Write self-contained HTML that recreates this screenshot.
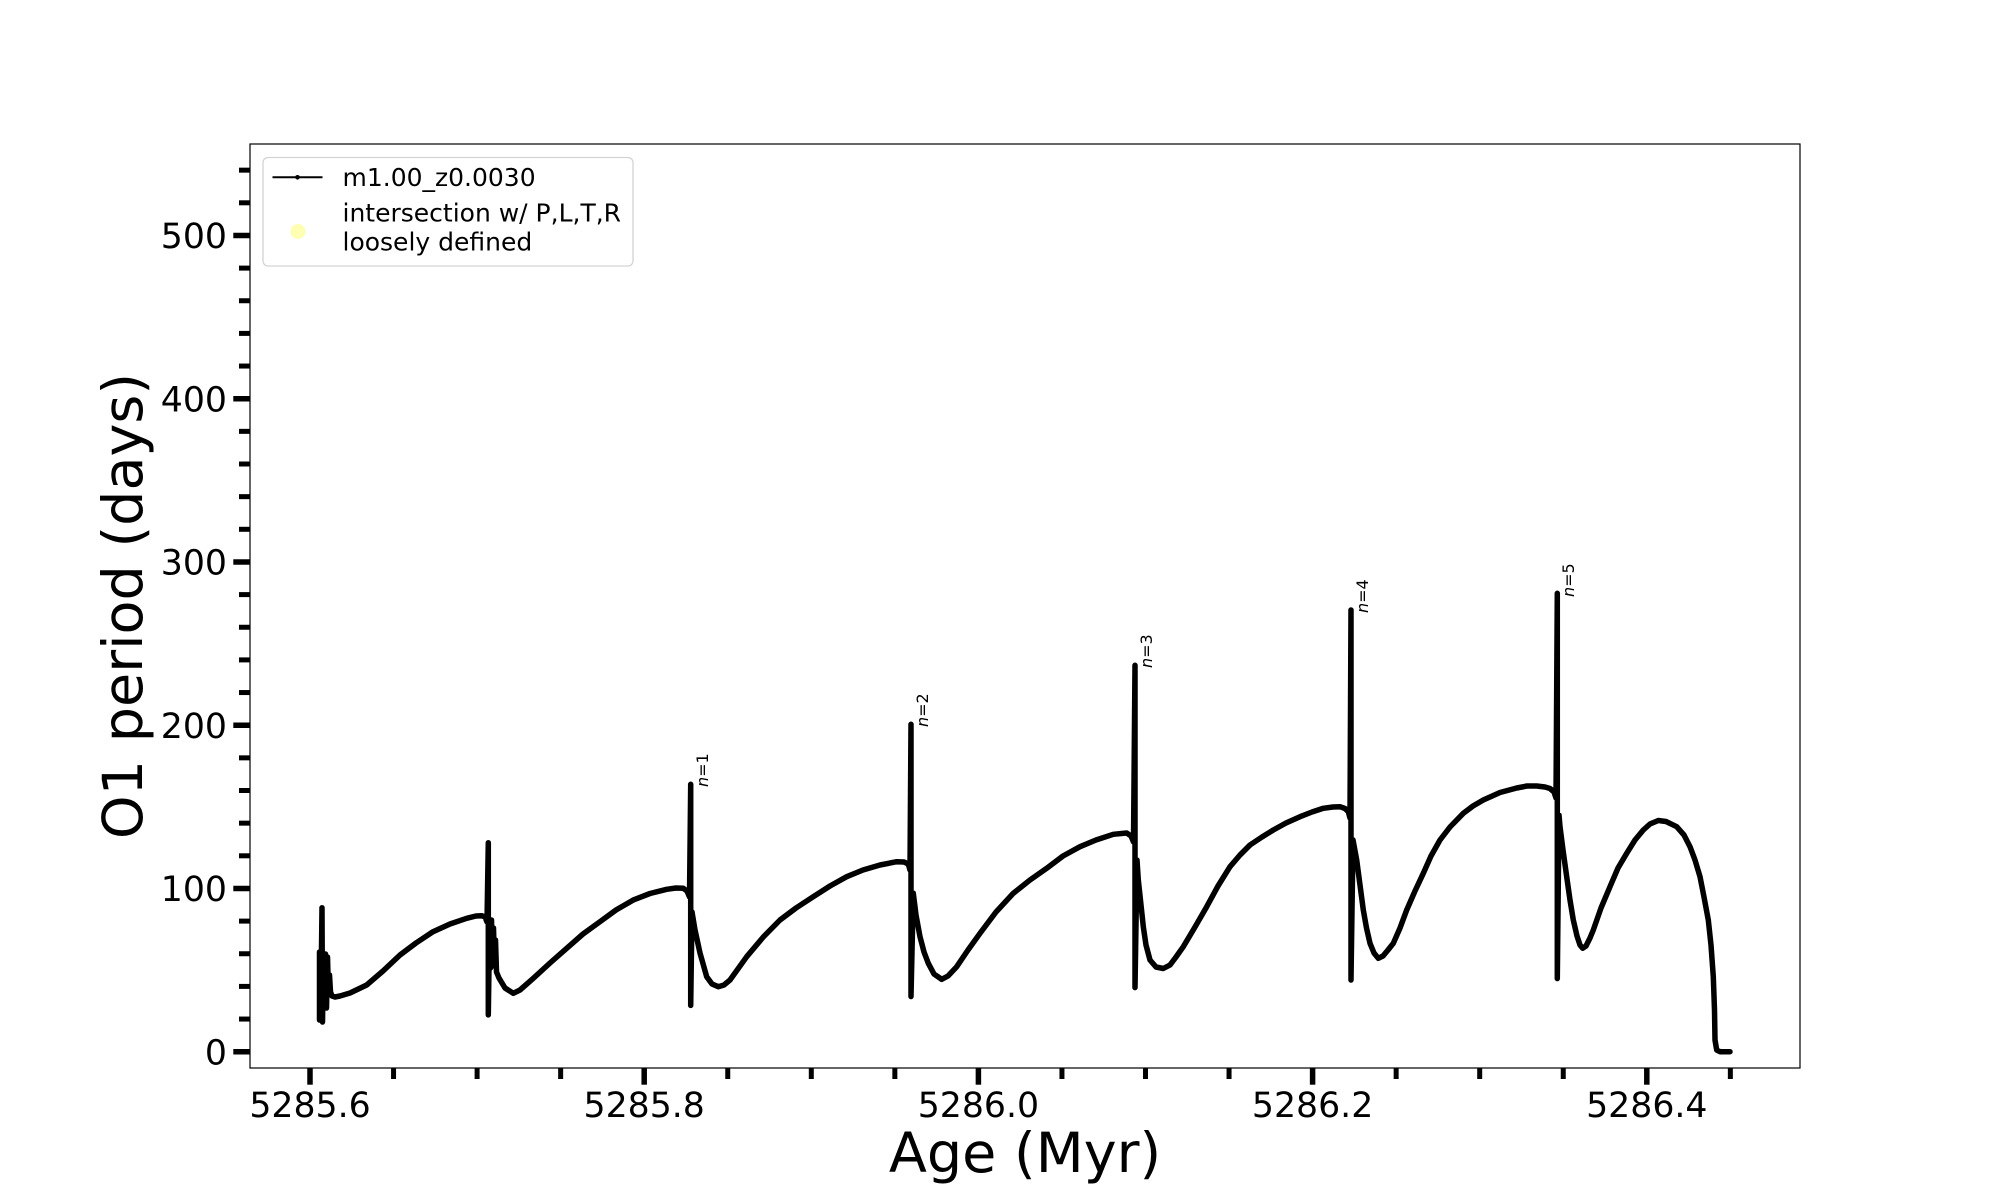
<!DOCTYPE html>
<html>
<head>
<meta charset="utf-8">
<style>
  html, body { margin: 0; padding: 0; background: #ffffff; }
  svg { display: block; }
  text { font-family: "DejaVu Sans", "Liberation Sans", sans-serif; fill: #000; }
</style>
</head>
<body>
<svg width="2000" height="1200" viewBox="0 0 2000 1200" xmlns="http://www.w3.org/2000/svg">
  <rect x="0" y="0" width="2000" height="1200" fill="#ffffff"/>

  <!-- data curve -->
  <path fill="none" stroke="#000" stroke-width="5.5" stroke-linejoin="round" stroke-linecap="round" d="
    M319.5,952 L319.5,1020 L320.5,955 L321,990 L322,907.7 L322.5,1022 L323.5,955 L324.5,1000 L325.5,954 L326.5,1008 L327.5,957 L328.5,995 L329.5,975 L330.5,992 L332,996 L335,997 L340,996 L350,993 L366.7,985 L383,971 L400,955 L416,943 L433,931.7 L450,924 L466.7,918.3 L476,916 L481.7,915.7 L485,917 L487,922
    L488.3,842.7 L488.3,1014.9 L489.5,930 L490.5,968 L491.5,920 L492.5,960 L493.5,928 L494.5,966 L495.5,940 L496.5,972 L499,978 L505,988 L513.3,993.3 L520,990 L533.3,978.3 L550,963 L566.7,948.3 L583,934 L600,921.7 L616,910 L633.3,900 L650,893.5 L666.7,889.3 L676,888 L683.3,888.3 L687,891 L689.5,897
    L690.7,784.3 L690.7,1005.4 L692,912 L695,930 L700,953 L706.7,976.7 L712,984 L718.3,986.7 L724,985 L730,980 L746.7,956.7 L763.3,937 L780,920 L796,908 L813.3,896.7 L830,886 L846.7,876.7 L863,870 L880,865 L896.7,861.7 L904,862 L908.3,864 L910,870
    L911,724.3 L911,996.5 L913.3,893.3 L916,915 L920,936.7 L924,952 L928.3,963.3 L934,974 L941.7,979.3 L948,976 L956.7,966.7 L968,950 L980,933.3 L996,912 L1013.3,893.3 L1030,880 L1046.7,868.3 L1063,856 L1080,846.7 L1096,840 L1113.3,834.3 L1126.7,833 L1131,836 L1133.5,842
    L1135,665.3 L1135,987.6 L1137,860 L1138.3,880 L1141,905 L1143.3,926.7 L1146,945 L1150,960 L1156,967 L1163.3,968.5 L1170,965 L1176,957 L1183.3,946.7 L1195,927 L1206.7,906.7 L1218,886 L1230,866.7 L1240,855 L1250,845 L1262,837 L1273.3,830 L1286,823 L1300,816.7 L1312,812 L1323.3,808.3 L1333,807 L1340,806.7 L1345,808.5 L1348.3,811.7 L1350,818
    L1351,610 L1351,980 L1353,840 L1356.7,860 L1360,885 L1363.3,910 L1366.5,928 L1370,943.3 L1374,953 L1378.3,958.3 L1383,956 L1388,950 L1393.3,943.3 L1400,928 L1406.7,910 L1415,891 L1423.3,873.3 L1431,856 L1440,840 L1450,827 L1463.3,813.3 L1473,806 L1483.3,800 L1500,792.5 L1516.7,788 L1527,786 L1536.7,786 L1545,787 L1550,788.5 L1554,792 L1556,798
    L1557.3,593.3 L1557.3,978.6 L1559,815 L1560,826.7 L1563,850 L1566.7,876.7 L1570,900 L1573.3,920 L1577,936 L1580,945 L1582.7,948.3 L1586,946 L1590,938 L1593.3,930 L1601,908 L1610,886.7 L1618,868 L1626.7,853.3 L1635,840 L1643.3,830 L1650,824 L1658.3,820.5 L1666,821.5 L1676.7,826.7 L1684,835 L1690,846.7 L1695,860 L1700,876.7 L1704,897 L1708.3,920 L1711,945 L1713.3,976.7 L1714.5,1010 L1715,1040 L1716.7,1050 L1720,1051.7 L1730,1051.7"/>

  <!-- n= labels -->
  <g font-size="16">
    <text transform="translate(708,787) rotate(-90)"><tspan font-style="italic">n</tspan>=1</text>
    <text transform="translate(928,727) rotate(-90)"><tspan font-style="italic">n</tspan>=2</text>
    <text transform="translate(1152,668) rotate(-90)"><tspan font-style="italic">n</tspan>=3</text>
    <text transform="translate(1368,613) rotate(-90)"><tspan font-style="italic">n</tspan>=4</text>
    <text transform="translate(1574,597) rotate(-90)"><tspan font-style="italic">n</tspan>=5</text>
  </g>

  <!-- axes frame -->
  <rect x="250" y="144" width="1550" height="924" fill="none" stroke="#000" stroke-width="1.2"/>

  <!-- x major ticks -->
  <g stroke="#000" stroke-width="5.5">
    <line x1="310" y1="1068" x2="310" y2="1084.7"/>
    <line x1="644.2" y1="1068" x2="644.2" y2="1084.7"/>
    <line x1="978.4" y1="1068" x2="978.4" y2="1084.7"/>
    <line x1="1312.6" y1="1068" x2="1312.6" y2="1084.7"/>
    <line x1="1646.8" y1="1068" x2="1646.8" y2="1084.7"/>
  </g>
  <!-- x minor ticks -->
  <g stroke="#000" stroke-width="5">
    <line x1="393.55" y1="1068" x2="393.55" y2="1079"/>
    <line x1="477.1" y1="1068" x2="477.1" y2="1079"/>
    <line x1="560.65" y1="1068" x2="560.65" y2="1079"/>
    <line x1="727.75" y1="1068" x2="727.75" y2="1079"/>
    <line x1="811.3" y1="1068" x2="811.3" y2="1079"/>
    <line x1="894.85" y1="1068" x2="894.85" y2="1079"/>
    <line x1="1061.95" y1="1068" x2="1061.95" y2="1079"/>
    <line x1="1145.5" y1="1068" x2="1145.5" y2="1079"/>
    <line x1="1229.05" y1="1068" x2="1229.05" y2="1079"/>
    <line x1="1396.15" y1="1068" x2="1396.15" y2="1079"/>
    <line x1="1479.7" y1="1068" x2="1479.7" y2="1079"/>
    <line x1="1563.25" y1="1068" x2="1563.25" y2="1079"/>
    <line x1="1730.35" y1="1068" x2="1730.35" y2="1079"/>
  </g>

  <!-- y major ticks -->
  <g stroke="#000" stroke-width="5.5">
    <line x1="233.3" y1="1051.7" x2="250" y2="1051.7"/>
    <line x1="233.3" y1="888.45" x2="250" y2="888.45"/>
    <line x1="233.3" y1="725.2" x2="250" y2="725.2"/>
    <line x1="233.3" y1="561.95" x2="250" y2="561.95"/>
    <line x1="233.3" y1="398.7" x2="250" y2="398.7"/>
    <line x1="233.3" y1="235.45" x2="250" y2="235.45"/>
  </g>
  <!-- y minor ticks -->
  <g stroke="#000" stroke-width="5">
    <line x1="239" y1="1019.05" x2="250" y2="1019.05"/>
    <line x1="239" y1="986.4" x2="250" y2="986.4"/>
    <line x1="239" y1="953.75" x2="250" y2="953.75"/>
    <line x1="239" y1="921.1" x2="250" y2="921.1"/>
    <line x1="239" y1="855.8" x2="250" y2="855.8"/>
    <line x1="239" y1="823.15" x2="250" y2="823.15"/>
    <line x1="239" y1="790.5" x2="250" y2="790.5"/>
    <line x1="239" y1="757.85" x2="250" y2="757.85"/>
    <line x1="239" y1="692.55" x2="250" y2="692.55"/>
    <line x1="239" y1="659.9" x2="250" y2="659.9"/>
    <line x1="239" y1="627.25" x2="250" y2="627.25"/>
    <line x1="239" y1="594.6" x2="250" y2="594.6"/>
    <line x1="239" y1="529.3" x2="250" y2="529.3"/>
    <line x1="239" y1="496.65" x2="250" y2="496.65"/>
    <line x1="239" y1="464" x2="250" y2="464"/>
    <line x1="239" y1="431.35" x2="250" y2="431.35"/>
    <line x1="239" y1="366.05" x2="250" y2="366.05"/>
    <line x1="239" y1="333.4" x2="250" y2="333.4"/>
    <line x1="239" y1="300.75" x2="250" y2="300.75"/>
    <line x1="239" y1="268.1" x2="250" y2="268.1"/>
    <line x1="239" y1="202.8" x2="250" y2="202.8"/>
    <line x1="239" y1="170.15" x2="250" y2="170.15"/>
  </g>

  <!-- x tick labels -->
  <g font-size="34.7" text-anchor="middle">
    <text x="310" y="1117">5285.6</text>
    <text x="644.2" y="1117">5285.8</text>
    <text x="978.4" y="1117">5286.0</text>
    <text x="1312.6" y="1117">5286.2</text>
    <text x="1646.8" y="1117">5286.4</text>
  </g>

  <!-- y tick labels -->
  <g font-size="34.7" text-anchor="end">
    <text x="227" y="1064.4">0</text>
    <text x="227" y="901.2">100</text>
    <text x="227" y="737.9">200</text>
    <text x="227" y="574.7">300</text>
    <text x="227" y="411.4">400</text>
    <text x="227" y="248.2">500</text>
  </g>

  <!-- axis labels -->
  <text x="1025" y="1172" font-size="55.6" text-anchor="middle">Age (Myr)</text>
  <text transform="translate(142,606) rotate(-90)" font-size="55.6" text-anchor="middle">O1 period (days)</text>

  <!-- legend -->
  <rect x="263" y="157.5" width="370" height="108.5" rx="5" ry="5" fill="#ffffff" fill-opacity="0.8" stroke="#d3d3d3" stroke-width="1.3"/>
  <line x1="272.5" y1="177.3" x2="322.5" y2="177.3" stroke="#000" stroke-width="2"/>
  <circle cx="297.5" cy="177.3" r="2.3" fill="#000"/>
  <text x="342.5" y="186" font-size="25">m1.00_z0.0030</text>
  <circle cx="298" cy="231.5" r="7.5" fill="#ffffb3"/>
  <text x="342.5" y="221.7" font-size="25">intersection w/ P,L,T,R</text>
  <text x="342.5" y="250.5" font-size="25">loosely defined</text>
</svg>
</body>
</html>
